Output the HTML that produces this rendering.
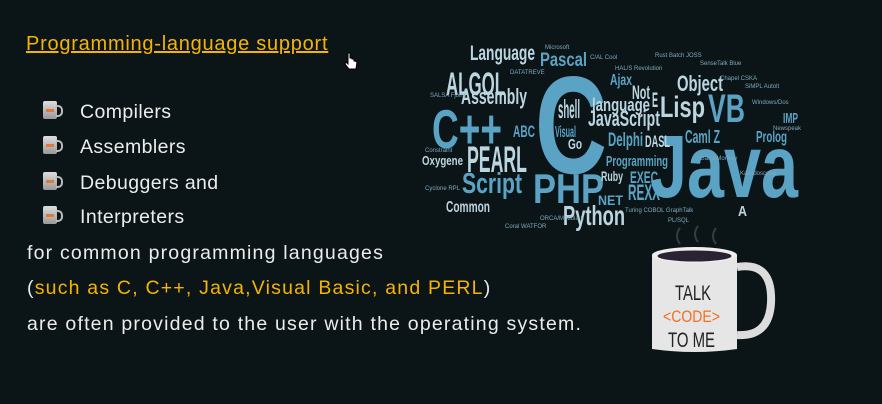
<!DOCTYPE html>
<html><head><meta charset="utf-8">
<style>
html,body{margin:0;padding:0}
body{width:882px;height:404px;background:#0b1517;position:relative;overflow:hidden;font-family:"Liberation Sans",sans-serif}
.t{position:absolute;white-space:nowrap;color:#ececec;font-size:19.5px;line-height:1;letter-spacing:1.2px}
.o{color:#f6b400}
.ic{position:absolute;left:43px;width:14px;height:18px;background:linear-gradient(#ddd,#999);border-radius:2px}
.ic:after{content:"";position:absolute;left:13px;top:4px;width:5px;height:8px;border:2px solid #bbb;border-left:none;border-radius:0 5px 5px 0}
.ic:before{content:"";position:absolute;left:3px;top:8px;width:8px;height:3px;background:#e07a3a}
#cloud text{font-family:"Liberation Sans",sans-serif;font-weight:bold;fill:#5aa3c4}
#cloud text.p{fill:#bcd6e1}
#cloud text.s{font-weight:normal;font-size:6px;fill:#7fa9bb}
</style></head><body>
<div class="t o" style="left:26px;top:34px;font-size:20px;text-decoration:underline;letter-spacing:0.75px">Programming-language support</div>
<svg style="position:absolute;left:344px;top:52px" width="14" height="20"><path d="M4 1v11l-2-2-1 2 4 5h7l1-7-2-1-1 0v-2l-2 0v-1l-2 0V1z" fill="#fff" stroke="#000" stroke-width="1"/></svg>

<div class="ic" style="top:101px"></div>
<div class="t" style="left:80px;top:103px;letter-spacing:0.4px">Compilers</div>
<div class="ic" style="top:136px"></div>
<div class="t" style="left:80px;top:138px;letter-spacing:0.4px">Assemblers</div>
<div class="ic" style="top:172px"></div>
<div class="t" style="left:80px;top:174px;letter-spacing:0.4px">Debuggers and</div>
<div class="ic" style="top:206px"></div>
<div class="t" style="left:80px;top:208px;letter-spacing:0.4px">Interpreters</div>

<div class="t" style="left:27px;top:244px">for common programming languages</div>
<div class="t" style="left:27px;top:279px">(<span class="o">such as C, C++, Java,Visual Basic, and PERL</span>)</div>
<div class="t" style="left:27px;top:315px">are often provided to the user with the operating system.</div>

<svg id="cloud" style="position:absolute;left:0;top:0" width="882" height="404">
<text x="535" y="173" font-size="139" textLength="72" lengthAdjust="spacingAndGlyphs">C</text>
<text x="650" y="197" font-size="89" textLength="148" lengthAdjust="spacingAndGlyphs">Java</text>
<text x="533" y="203" font-size="42" textLength="71" lengthAdjust="spacingAndGlyphs">PHP</text>
<text class="p" x="563" y="225" font-size="28" textLength="62" lengthAdjust="spacingAndGlyphs">Python</text>
<text x="462" y="193" font-size="29" textLength="60" lengthAdjust="spacingAndGlyphs">Script</text>
<text class="p" x="467" y="172" font-size="37" textLength="60" lengthAdjust="spacingAndGlyphs">PEARL</text>
<text x="432" y="148" font-size="55" textLength="70" lengthAdjust="spacingAndGlyphs">C++</text>
<text class="p" x="446" y="95" font-size="32" textLength="59" lengthAdjust="spacingAndGlyphs">ALGOL</text>
<text class="p" x="470" y="60" font-size="21" textLength="65" lengthAdjust="spacingAndGlyphs">Language</text>
<text x="540" y="66" font-size="19" textLength="47" lengthAdjust="spacingAndGlyphs">Pascal</text>
<text class="p" x="660" y="117" font-size="30" textLength="45" lengthAdjust="spacingAndGlyphs">Lisp</text>
<text x="708" y="122" font-size="40" textLength="37" lengthAdjust="spacingAndGlyphs">VB</text>
<text class="p" x="677" y="91" font-size="22" textLength="46" lengthAdjust="spacingAndGlyphs">Object</text>
<text class="p" x="588" y="126" font-size="22" textLength="72" lengthAdjust="spacingAndGlyphs">JavaScript</text>
<text class="p" x="461" y="104" font-size="22" textLength="66" lengthAdjust="spacingAndGlyphs">Assembly</text>
<text x="606" y="166" font-size="15" textLength="62" lengthAdjust="spacingAndGlyphs">Programming</text>
<text class="p" x="422" y="165" font-size="13" textLength="41" lengthAdjust="spacingAndGlyphs">Oxygene</text>
<text class="p" x="446" y="212" font-size="16" textLength="44" lengthAdjust="spacingAndGlyphs">Common</text>
<text class="p" x="601" y="181" font-size="14" textLength="22" lengthAdjust="spacingAndGlyphs">Ruby</text>
<text x="630" y="183" font-size="17" textLength="28" lengthAdjust="spacingAndGlyphs">EXEC</text>
<text x="628" y="200" font-size="22" textLength="32" lengthAdjust="spacingAndGlyphs">REXX</text>
<text x="598" y="205" font-size="14" textLength="25" lengthAdjust="spacingAndGlyphs">NET</text>
<text class="p" x="558" y="118" font-size="26" textLength="22" lengthAdjust="spacingAndGlyphs">shell</text>
<text x="555" y="137" font-size="16" textLength="21" lengthAdjust="spacingAndGlyphs">Visual</text>
<text class="p" x="568" y="149" font-size="15" textLength="14" lengthAdjust="spacingAndGlyphs">Go</text>
<text class="p" x="592" y="111" font-size="18" textLength="58" lengthAdjust="spacingAndGlyphs">language</text>
<text x="608" y="146" font-size="19" textLength="35" lengthAdjust="spacingAndGlyphs">Delphi</text>
<text class="p" x="645" y="147" font-size="17" textLength="25" lengthAdjust="spacingAndGlyphs">DASL</text>
<text x="685" y="143" font-size="18" textLength="35" lengthAdjust="spacingAndGlyphs">Caml Z</text>
<text x="756" y="142" font-size="16" textLength="31" lengthAdjust="spacingAndGlyphs">Prolog</text>
<text x="783" y="123" font-size="15" textLength="15" lengthAdjust="spacingAndGlyphs">IMP</text>
<text x="610" y="85" font-size="16" textLength="22" lengthAdjust="spacingAndGlyphs">Ajax</text>
<text class="p" x="632" y="99" font-size="19" textLength="18" lengthAdjust="spacingAndGlyphs">Not</text>
<text class="p" x="652" y="107" font-size="21" textLength="6" lengthAdjust="spacingAndGlyphs">E</text>
<text x="513" y="137" font-size="17" textLength="22" lengthAdjust="spacingAndGlyphs">ABC</text>
<text class="p" x="738" y="216" font-size="15" textLength="9" lengthAdjust="spacingAndGlyphs">A</text>
<text class="s" x="545" y="49">Microsoft</text>
<text class="s" x="590" y="59">C/AL Cool</text>
<text class="s" x="655" y="57">Rust Batch JOSS</text>
<text class="s" x="700" y="65">SenseTalk Blue</text>
<text class="s" x="720" y="80">Chapel CSKA</text>
<text class="s" x="745" y="88">SiMPL Autolt</text>
<text class="s" x="752" y="104">Windows/Dos</text>
<text class="s" x="615" y="70">HAL/S Revolution</text>
<text class="s" x="510" y="74">DATATREVE</text>
<text class="s" x="430" y="97">SALSA Fjolnir</text>
<text class="s" x="425" y="152">Constraint</text>
<text class="s" x="425" y="190">Cyclone RPL</text>
<text class="s" x="540" y="220">ORCA/Modula-2</text>
<text class="s" x="625" y="212">Turing COBOL GraphTalk</text>
<text class="s" x="668" y="222">PL/SQL</text>
<text class="s" x="773" y="130">Newspeak</text>
<text class="s" x="505" y="228">Coral WATFOR</text>
<text class="s" x="700" y="160">GameMonkey</text>
<text class="s" x="740" y="175">Kaleidoscope</text>
</svg>

<div>
<svg style="position:absolute;left:640px;top:222px" width="140" height="140">
<path d="M40 22q-6-8 0-16M58 20q-6-8 0-16M76 22q-6-8 0-16" stroke="#556" stroke-width="2" fill="none" opacity="0.6"/>
<path d="M97 45q36-6 34 36q-2 34-34 32" stroke="#dcdcdc" stroke-width="8" fill="none"/>
<path d="M12 33h85v94q-42 6-85 0z" fill="#e6e6e6"/>
<ellipse cx="54.5" cy="33" rx="42.5" ry="8" fill="#eee"/>
<ellipse cx="54.5" cy="34" rx="37" ry="5.5" fill="#2b2233"/>
<text x="35" y="78" font-family="Liberation Sans,sans-serif" font-size="21" textLength="36" lengthAdjust="spacingAndGlyphs" fill="#222">TALK</text>
<text x="23" y="100" font-family="Liberation Sans,sans-serif" font-size="17" textLength="57" lengthAdjust="spacingAndGlyphs" fill="#f07020">&lt;CODE&gt;</text>
<text x="28" y="125" font-family="Liberation Sans,sans-serif" font-size="21" textLength="47" lengthAdjust="spacingAndGlyphs" fill="#222">TO ME</text>
</svg>
</div>
</body></html>
